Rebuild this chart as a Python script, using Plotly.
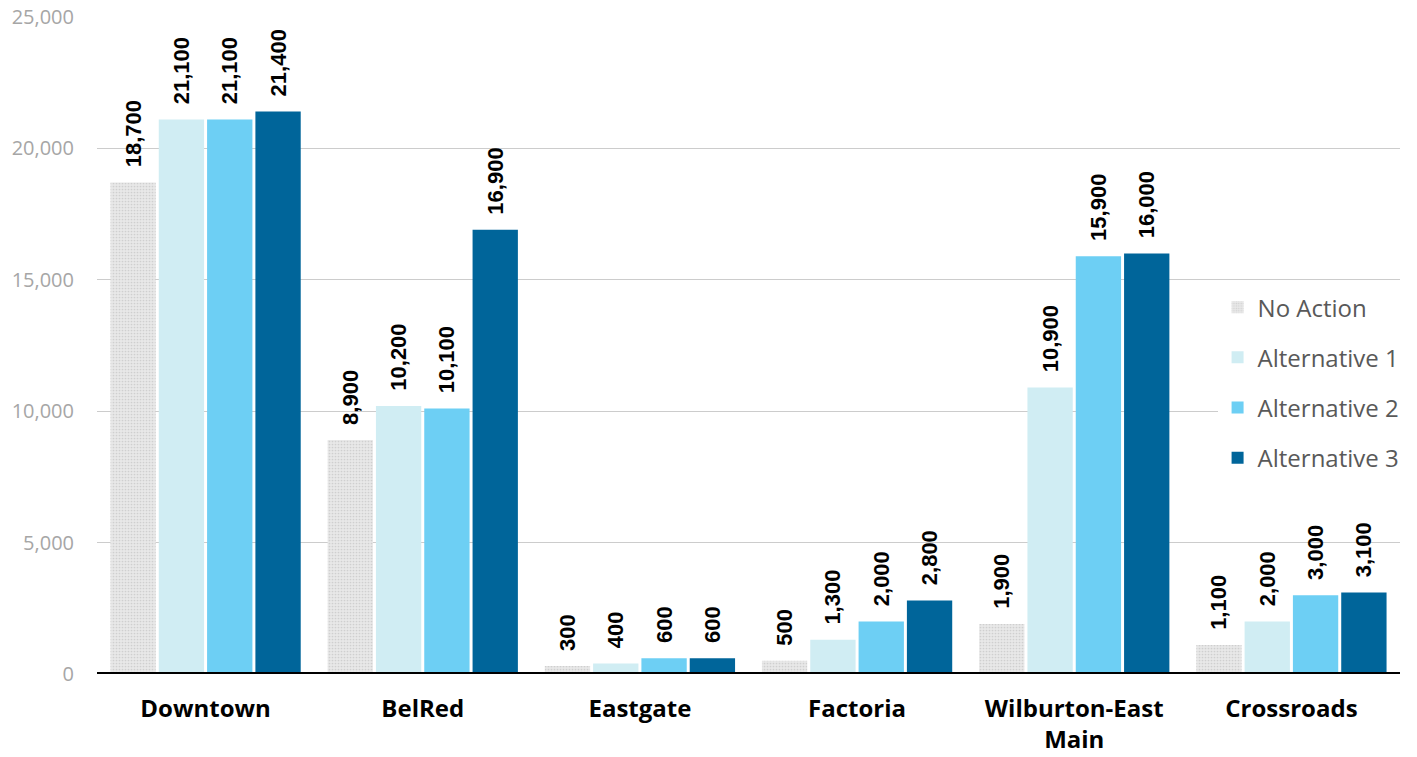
import plotly.graph_objects as go

# Housing capacity by growth area under each land-use alternative
areas = ["Downtown", "BelRed", "Eastgate", "Factoria", "Wilburton-East<br>Main", "Crossroads"]
series_names = ["No Action", "Alternative 1", "Alternative 2", "Alternative 3"]
no_action = [18700, 8900, 300, 500, 1900, 1100]
alternative_1 = [21100, 10200, 400, 1300, 10900, 2000]
alternative_2 = [21100, 10100, 600, 2000, 15900, 3000]
alternative_3 = [21400, 16900, 600, 2800, 16000, 3100]
y_ticks = [0, 5000, 10000, 15000, 20000, 25000]

series_values = [no_action, alternative_1, alternative_2, alternative_3]
colors = ["#e4e4e4", "#d0edf3", "#6dcff4", "#00659a"]

fig = go.Figure()
for i, (name, vals, col) in enumerate(zip(series_names, series_values, colors)):
    marker = dict(color=col, line=dict(width=0))
    if i == 0:
        marker["pattern"] = dict(shape=".", size=3, solidity=0.25,
                                 fgcolor="#cfcfcf", bgcolor="#e8e8e8", fillmode="replace")
    # leading no-break spaces lift the rotated value labels off the bar tops
    labels = ["\u00a0\u00a0" + f"{v:,}" for v in vals]
    fig.add_trace(go.Bar(
        x=areas, y=vals, name=name, marker=marker,
        text=labels, textposition="outside", textangle=-90,
        textfont=dict(family="Liberation Sans", size=22, color="#000000"),
        texttemplate="<b>%{text}</b>", cliponaxis=False, constraintext="none",
        legendgroup=name,
    ))

# heavy baseline drawn over the bar bottoms
fig.add_shape(type="line", xref="paper", yref="y", x0=0, x1=1, y0=0, y1=0,
              line=dict(color="#000000", width=4), layer="above")

fig.update_layout(
    width=1417, height=757,
    margin=dict(l=97, r=17, t=17, b=83, autoexpand=False),
    paper_bgcolor="white", plot_bgcolor="white",
    barmode="group", bargap=0.11, bargroupgap=0.062,
    showlegend=True,
    legend=dict(
        x=0.860, y=0.592, xanchor="left", yanchor="top",
        bgcolor="white", font=dict(family="Open Sans", size=24, color="#595959"),
        traceorder="grouped", tracegroupgap=16, itemwidth=30,
    ),
    xaxis=dict(
        tickfont=dict(family="Open Sans", size=24, color="#000000", weight="bold"),
        showgrid=False, showline=False, ticks="", ticklabelstandoff=18,
        automargin=False,
    ),
    yaxis=dict(
        range=[0, 25000], tickvals=y_ticks, tickformat=",",
        tickfont=dict(family="Open Sans", size=20, color="#a6a6a6"),
        showgrid=True, gridcolor="#cccccc", gridwidth=1,
        zeroline=False, showline=False, ticks="", ticklabelstandoff=22,
        automargin=False,
    ),
)

fig.write_html("out.html")
